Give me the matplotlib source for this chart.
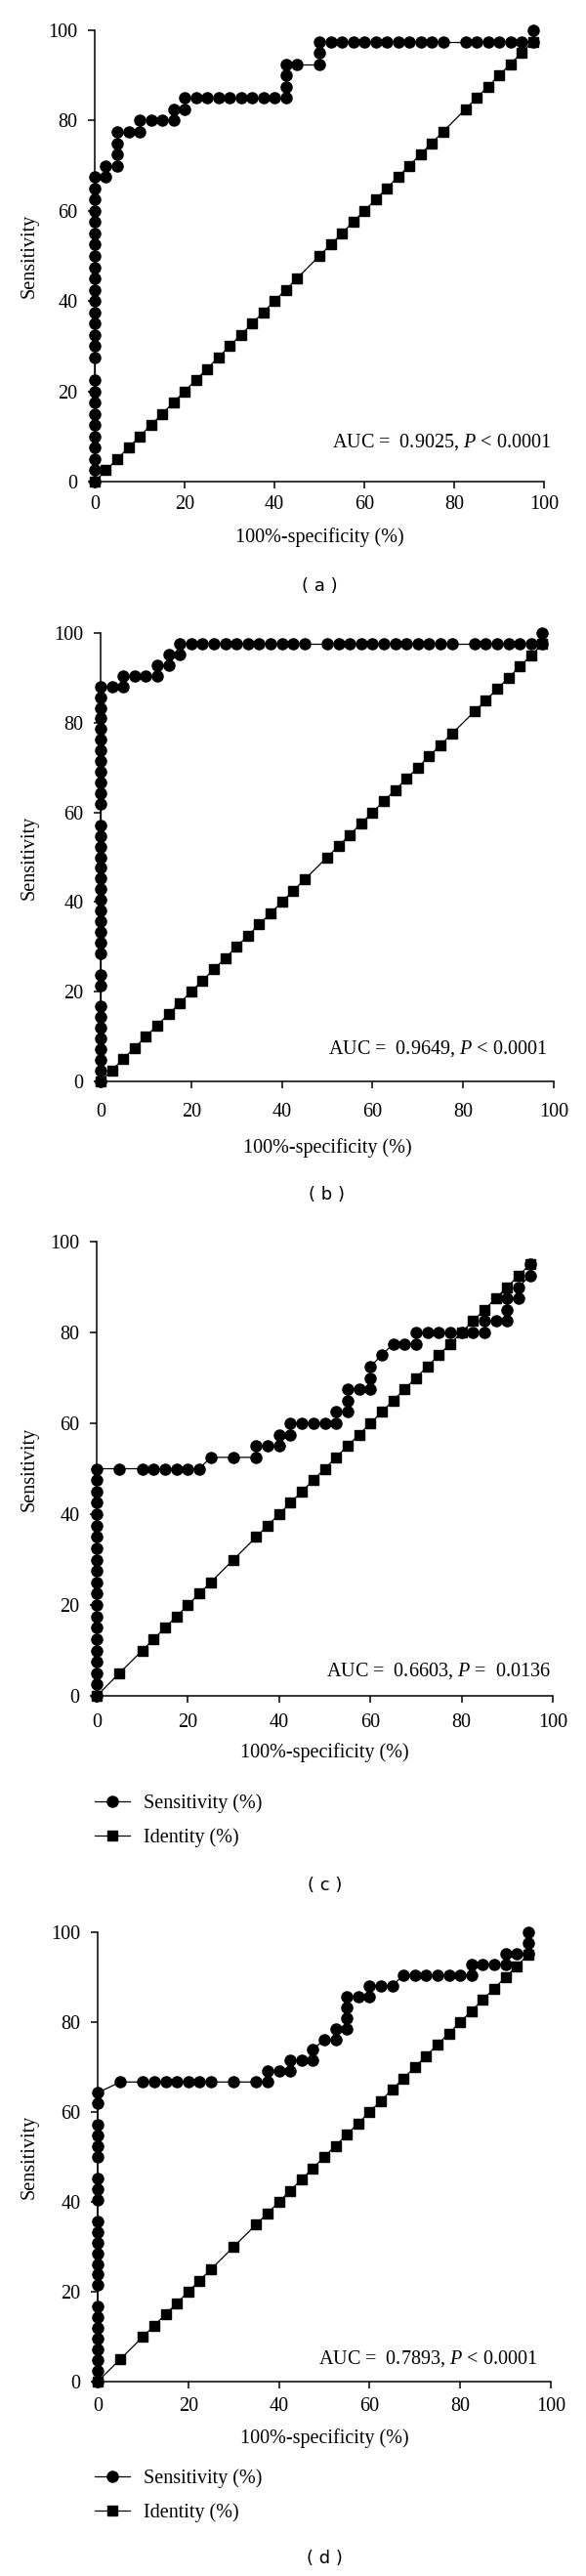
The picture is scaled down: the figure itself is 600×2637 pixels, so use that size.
import matplotlib
matplotlib.use("Agg")
import matplotlib.pyplot as plt

plt.rcParams['font.family'] = 'Liberation Serif'
plt.rcParams['mathtext.fontset'] = 'custom'
plt.rcParams['mathtext.rm'] = 'Liberation Serif'
plt.rcParams['mathtext.it'] = 'Liberation Serif:italic'

# ========================================================================
# data (x = 100%-specificity, y = sensitivity)

# (a)
a_x = [0, 0, 0, 0, 0, 0, 0, 0, 0, 0, 0, 0, 0, 0, 0, 0, 0, 0, 0, 0, 0, 0, 0, 0, 0, 0, 0,
       2.5, 2.5, 5, 5, 5, 5, 7.5, 10, 10, 12.5, 15, 17.5, 17.5, 20, 20,
       22.5, 25, 27.5, 30, 32.5, 35, 37.5, 40, 42.5, 42.5, 42.5, 42.5, 45, 50, 50, 50,
       52.5, 55, 57.5, 60, 62.5, 65, 67.5, 70, 72.5, 75, 77.5,
       82.5, 85, 87.5, 90, 92.5, 95, 97.5, 97.5]
a_y = [0, 2.5, 5, 7.5, 10, 12.5, 15, 17.5, 20, 22.5, 27.5, 30, 32.5, 35, 37.5, 40, 42.5,
       45, 47.5, 50, 52.5, 55, 57.5, 60, 62.5, 65, 67.5,
       67.5, 70, 70, 72.5, 75, 77.5, 77.5, 77.5, 80, 80, 80, 80, 82.5, 82.5, 85,
       85, 85, 85, 85, 85, 85, 85, 85, 85, 87.5, 90, 92.5, 92.5, 92.5, 95, 97.5,
       97.5, 97.5, 97.5, 97.5, 97.5, 97.5, 97.5, 97.5, 97.5, 97.5, 97.5,
       97.5, 97.5, 97.5, 97.5, 97.5, 97.5, 97.5, 100]
a_id = [0, 2.5, 5, 7.5, 10, 12.5, 15, 17.5, 20, 22.5, 25, 27.5, 30, 32.5, 35, 37.5, 40,
        42.5, 45, 50, 52.5, 55, 57.5, 60, 62.5, 65, 67.5, 70, 72.5, 75, 77.5,
        82.5, 85, 87.5, 90, 92.5, 95, 97.5]

# (b)
b_x = [0, 0, 0, 0, 0, 0, 0, 0, 0, 0, 0, 0, 0, 0, 0, 0, 0, 0, 0, 0, 0, 0, 0, 0, 0, 0, 0,
       0, 0, 0, 0, 0, 0, 0, 0,
       2.5, 5, 5, 7.5, 10, 12.5, 12.5, 15, 15, 17.5, 17.5,
       20, 22.5, 25, 27.5, 30, 32.5, 35, 37.5, 40, 42.5, 45,
       50, 52.5, 55, 57.5, 60, 62.5, 65, 67.5, 70, 72.5, 75, 77.5,
       82.5, 85, 87.5, 90, 92.5, 95, 97.5, 97.5]
b_y = [0, 2.38, 4.76, 7.14, 9.52, 11.90, 14.29, 16.67, 21.43, 23.81, 28.57, 30.95, 33.33,
       35.71, 38.10, 40.48, 42.86, 45.24, 47.62, 50.00, 52.38, 54.76, 57.14, 61.90, 64.29,
       66.67, 69.05, 71.43, 73.81, 76.19, 78.57, 80.95, 83.33, 85.71, 88.10,
       88.10, 88.10, 90.48, 90.48, 90.48, 90.48, 92.86, 92.86, 95.24, 95.24, 97.62,
       97.62, 97.62, 97.62, 97.62, 97.62, 97.62, 97.62, 97.62, 97.62, 97.62, 97.62,
       97.62, 97.62, 97.62, 97.62, 97.62, 97.62, 97.62, 97.62, 97.62, 97.62, 97.62, 97.62,
       97.62, 97.62, 97.62, 97.62, 97.62, 97.62, 97.62, 100]
b_id = a_id

# (c)
c_x = [0, 0, 0, 0, 0, 0, 0, 0, 0, 0, 0, 0, 0, 0, 0, 0, 0, 0, 0, 0, 0,
       5, 10, 12.5, 15, 17.5, 20, 22.5, 25, 30, 35, 35, 37.5, 40, 40, 42.5, 42.5,
       45, 47.5, 50, 52.5, 52.5, 55, 55, 55, 57.5, 60, 60, 60, 62.5, 65, 67.5, 70, 70,
       72.5, 75, 77.5, 80, 82.5, 85, 85, 87.5, 90, 90, 90, 92.5, 92.5, 95, 95]
c_y = [0, 2.5, 5, 7.5, 10, 12.5, 15, 17.5, 20, 22.5, 25, 27.5, 30, 32.5, 35, 37.5, 40,
       42.5, 45, 47.5, 50,
       50, 50, 50, 50, 50, 50, 50, 52.5, 52.5, 52.5, 55, 55, 55, 57.5, 57.5, 60,
       60, 60, 60, 60, 62.5, 62.5, 65, 67.5, 67.5, 67.5, 70, 72.5, 75, 77.5, 77.5, 77.5, 80,
       80, 80, 80, 80, 80, 80, 82.5, 82.5, 82.5, 85, 87.5, 87.5, 90, 92.5, 95]
c_id = [0, 5, 10, 12.5, 15, 17.5, 20, 22.5, 25, 30, 35, 37.5, 40, 42.5, 45, 47.5, 50,
        52.5, 55, 57.5, 60, 62.5, 65, 67.5, 70, 72.5, 75, 77.5, 80, 82.5, 85, 87.5,
        90, 92.5, 95]

# (d)
d_x = [0, 0, 0, 0, 0, 0, 0, 0, 0, 0, 0, 0, 0, 0, 0, 0, 0, 0, 0, 0, 0, 0, 0, 0,
       5, 10, 12.5, 15, 17.5, 20, 22.5, 25, 30, 35, 37.5, 37.5, 40, 42.5, 42.5, 45,
       47.5, 47.5, 50, 52.5, 52.5, 55, 55, 55, 55, 57.5, 60, 60, 62.5, 65,
       67.5, 70, 72.5, 75, 77.5, 80, 82.5, 82.5, 85, 87.5, 90, 90, 92.5, 95, 95, 95]
d_y = [0, 2.38, 4.76, 7.14, 9.52, 11.90, 14.29, 16.67, 21.43, 23.81, 26.19, 28.57, 30.95,
       33.33, 35.71, 40.48, 42.86, 45.24, 50.00, 52.38, 54.76, 57.14, 61.90, 64.29,
       66.67, 66.67, 66.67, 66.67, 66.67, 66.67, 66.67, 66.67, 66.67, 66.67, 66.67, 69.05,
       69.05, 69.05, 71.43, 71.43, 71.43, 73.81, 76.19, 76.19, 78.57, 78.57, 80.95, 83.33,
       85.71, 85.71, 85.71, 88.10, 88.10, 88.10,
       90.48, 90.48, 90.48, 90.48, 90.48, 90.48, 90.48, 92.86, 92.86, 92.86, 92.86, 95.24,
       95.24, 95.24, 97.62, 100]
d_id = c_id

auc_text = [r"AUC =  0.9025, $P$ < 0.0001",
            r"AUC =  0.9649, $P$ < 0.0001",
            r"AUC =  0.6603, $P$ =  0.0136",
            r"AUC =  0.7893, $P$ < 0.0001"]
panel_tags = ["( a )", "( b )", "( c )", "( d )"]
series_labels = ["Sensitivity (%)", "Identity (%)"]
ticks = [0, 20, 40, 60, 80, 100]

# ========================================================================
# layout (pixel positions in the 600 x 2637 picture)
W, H = 600.0, 2637.0

# left, right, top, bottom of plot area; x tick pad; AUC pos; xlabel y; legend y; tag y
layout = [
    (97, 557, 31, 493, 5.0, (101.5, 8.7), 550, None, 600),
    (103, 567, 648, 1107, 10.5, (98.5, 7.3), 1175, None, 1223),
    (99, 566, 1271, 1736, 8.0, (99.5, 5.4), 1794, 1836, 1930),
    (100, 564, 1978, 2438, 6.5, (97.0, 5.2), 2496, 2527, 2619),
]

fig = plt.figure(figsize=(6, 26.37), dpi=100)

panels = [(a_x, a_y, a_id), (b_x, b_y, b_id), (c_x, c_y, c_id), (d_x, d_y, d_id)]

for i, (xs, ys, ids) in enumerate(panels):
	left, right, top, bottom, xpad, aucpos, xlab_y, leg_y, tag_y = layout[i]
	ax = fig.add_axes([left / W, 1 - bottom / H, (right - left) / W, (bottom - top) / H])

	ax.plot(xs, ys, color='black', lw=0.9, marker='o', ms=8, clip_on=False,
	        label=series_labels[0], zorder=3)
	ax.plot(ids, ids, color='black', lw=0.9, marker='s', ms=7.8, clip_on=False,
	        label=series_labels[1], zorder=4)

	ax.set_xlim(0, 100)
	ax.set_ylim(0, 100)
	ax.set_xticks(ticks)
	ax.set_yticks(ticks)
	ax.spines['top'].set_visible(False)
	ax.spines['right'].set_visible(False)
	for s in ['left', 'bottom']:
		ax.spines[s].set_linewidth(1.1)
	ax.tick_params(axis='both', direction='out', length=5, width=1.1, labelsize=14.5)
	ax.tick_params(axis='x', pad=xpad)
	ax.tick_params(axis='y', pad=7.5)

	ax.text(aucpos[0], aucpos[1], auc_text[i], ha='right', va='center', fontsize=14.5)

	cx = (left + right) / 2.0 / W
	fig.text(cx, 1 - xlab_y / H, "100%-specificity (%)", ha='center', va='center', fontsize=14.5)
	fig.text(30 / W, 1 - (top + bottom) / 2.0 / H, "Sensitivity", rotation=90,
	         ha='center', va='center', fontsize=14.5)
	fig.text(cx, 1 - tag_y / H, panel_tags[i], ha='center', va='center',
	         fontsize=13, family='DejaVu Sans')

	if leg_y is not None:
		ax.legend(loc='upper left', bbox_to_anchor=(97 / W, 1 - leg_y / H),
		          bbox_transform=fig.transFigure, frameon=False, fontsize=14.5,
		          borderpad=0, borderaxespad=0, handlelength=1.8, handletextpad=0.7,
		          labelspacing=0.75)

fig.savefig("out.png", dpi=100)
